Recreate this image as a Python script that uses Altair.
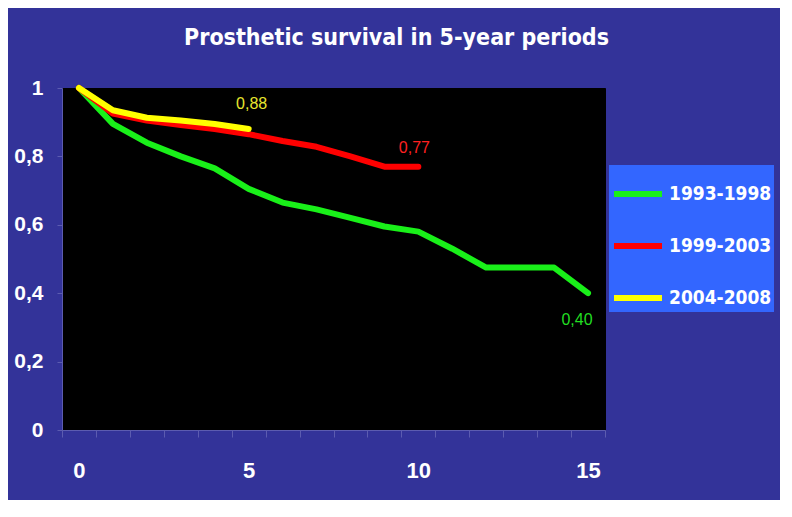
import altair as alt
import pandas as pd

# ---- data ----
years = list(range(16))
s1_name = "1993-1998"
s1_vals = [1.00, 0.895, 0.84, 0.80, 0.765, 0.705, 0.665, 0.645, 0.62, 0.595, 0.58, 0.53, 0.475, 0.475, 0.475, 0.40]
s2_name = "1999-2003"
s2_vals = [1.00, 0.925, 0.905, 0.892, 0.88, 0.865, 0.845, 0.828, 0.80, 0.77, 0.77]
s3_name = "2004-2008"
s3_vals = [1.00, 0.935, 0.913, 0.905, 0.895, 0.88]

series_names = [s1_name, s2_name, s3_name]
series_colors = ["#19f019", "#ff0000", "#ffff00"]
label_colors = ["#22dd22", "#ff2020", "#e6e62e"]
end_texts = ["0,40", "0,77", "0,88"]

x_ticks = [v - 0.5 for v in range(17)]
x_label_values = [0, 5, 10, 15]
y_ticks = [0, 0.2, 0.4, 0.6, 0.8, 1.0]

rows = []
for name, vals in zip(series_names, [s1_vals, s2_vals, s3_vals]):
    for yr, v in zip(years, vals):
        rows.append({"year": yr, "survival": v, "period": name})
df = pd.DataFrame(rows)

TITLE_FONT = "DejaVu Sans Condensed"
LEG_FONT = "DejaVu Sans Condensed"
AX_FONT = "Liberation Sans"
AX = "#5c5cb0"

x_scale = alt.Scale(domain=[-0.5, 15.5], nice=False, zero=False)

x_label_enc = alt.X(
    "year:Q", scale=x_scale,
    axis=alt.Axis(
        values=x_label_values, format="d", orient="bottom",
        title=None, grid=False, ticks=False, domainColor=AX,
        labelColor="white", labelFont=AX_FONT, labelFontSize=22, labelFontWeight="bold",
        labelPadding=30, labelOverlap=False, labelFlush=False,
    ),
)
x_tick_enc = alt.X(
    "year:Q", scale=x_scale,
    axis=alt.Axis(
        values=x_ticks, orient="bottom", labels=False,
        title=None, grid=False, tickSize=7, tickColor=AX, domainColor=AX,
    ),
)
x_none_enc = alt.X("year:Q", scale=x_scale, axis=None)

y_enc = alt.Y(
    "survival:Q",
    scale=alt.Scale(domain=[0, 1], nice=False),
    axis=alt.Axis(
        values=y_ticks,
        labelExpr="replace(format(datum.value, '.1~f'), '.', ',')",
        title=None, grid=False, tickSize=5, tickColor=AX, domainColor=AX,
        labelColor="white", labelFont=AX_FONT, labelFontSize=21, labelFontWeight="bold",
        labelPadding=14, labelOverlap=False, labelFlush=False,
    ),
)

lines = alt.Chart(df).mark_line(strokeWidth=6, strokeCap="round", strokeJoin="round").encode(
    x=x_label_enc,
    y=y_enc,
    color=alt.Color(
        "period:N",
        scale=alt.Scale(domain=series_names, range=series_colors),
        legend=alt.Legend(
            title=None, orient="none", legendX=547, legendY=77,
            fillColor="#3366ff", padding=2, rowPadding=13,
            symbolType="stroke", symbolSize=2304, symbolStrokeWidth=6, symbolOpacity=1,
            labelFont=LEG_FONT, labelFontSize=19, labelFontWeight="bold", labelColor="white",
            labelOffset=4, labelLimit=200,
        ),
    ),
)

layers = [lines]
offsets = [(-11, 27), (-4, -19), (3, -25)]
for i, (name, vals, txt, col, (dx, dy)) in enumerate(
        zip(series_names, [s1_vals, s2_vals, s3_vals], end_texts, label_colors, offsets)):
    ldf = pd.DataFrame({"year": [years[len(vals) - 1]], "survival": [vals[-1]], "txt": [txt]})
    layers.append(
        alt.Chart(ldf).mark_text(
            font="Liberation Sans", fontSize=16, color=col,
            dx=dx, dy=dy, baseline="middle", align="center",
        ).encode(x=x_tick_enc if i == 0 else x_none_enc, y=y_enc, text="txt:N")
    )

chart = alt.layer(*layers).resolve_axis(x="independent").properties(
    width=543, height=342,
    padding={"left": 54, "top": 80, "right": 175, "bottom": 70},
    autosize="none",
    title=alt.TitleParams(
        "Prosthetic survival in 5-year periods",
        font=TITLE_FONT, fontSize=23, fontWeight="bold", color="white",
        anchor="middle", frame="group", dx=63, offset=0, dy=-4, baseline="bottom",
    ),
).configure(background="#333399").configure_view(fill="black", stroke="black")

chart.save("out.html", embed_options={"renderer": "svg", "actions": False})
